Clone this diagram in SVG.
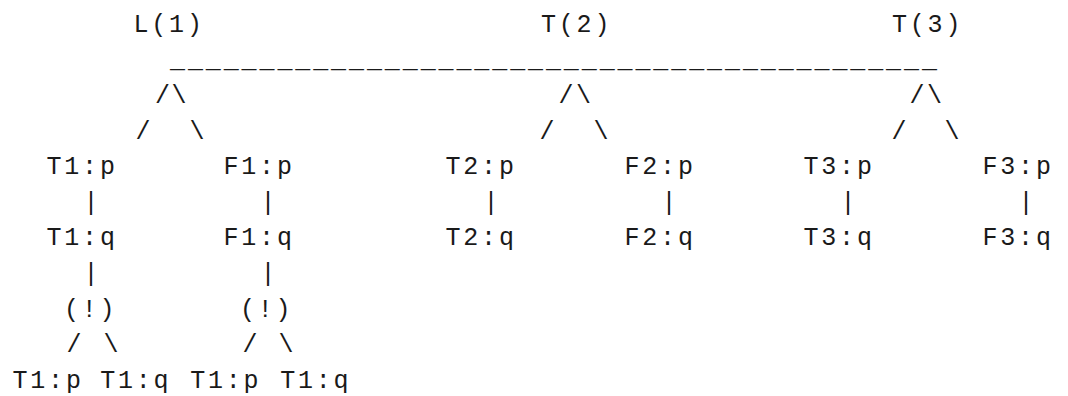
<svg xmlns="http://www.w3.org/2000/svg" width="1068" height="396" viewBox="0 0 1068 396">
  <style>
    text { font-family: "Liberation Mono", "DejaVu Sans Mono", monospace; font-size: 25px; fill: #1a1a1a; }
    .lbl { letter-spacing: 2.8px; white-space: pre; }
    .ch { text-anchor: middle; }
    .bar { letter-spacing: 2.9px; }
  </style>
  <rect width="1068" height="396" fill="#ffffff"/>

  <!-- tree edges, drawn as monospace characters -->
  <g id="connectors">
    <text class="bar lbl" x="170" y="67">___________________________________________</text>
    <!-- L(1) branch -->
    <text class="ch" x="162.5" y="103">/</text>
    <text class="ch" x="179" y="103">\</text>
    <text class="ch" x="143" y="138.5">/</text>
    <text class="ch" x="197" y="138.5">\</text>
    <text class="ch" x="91" y="210">|</text>
    <text class="ch" x="268" y="210">|</text>
    <text class="ch" x="91" y="281">|</text>
    <text class="ch" x="268" y="281">|</text>
    <text class="ch" x="74" y="352">/</text>
    <text class="ch" x="111" y="352">\</text>
    <text class="ch" x="250" y="352">/</text>
    <text class="ch" x="286" y="352">\</text>
    <!-- T(2) branch -->
    <text class="ch" x="566" y="103">/</text>
    <text class="ch" x="583.5" y="103">\</text>
    <text class="ch" x="547" y="138.5">/</text>
    <text class="ch" x="601" y="138.5">\</text>
    <text class="ch" x="491" y="210">|</text>
    <text class="ch" x="669" y="210">|</text>
    <!-- T(3) branch -->
    <text class="ch" x="917" y="103">/</text>
    <text class="ch" x="934.5" y="103">\</text>
    <text class="ch" x="899" y="138.5">/</text>
    <text class="ch" x="952" y="138.5">\</text>
    <text class="ch" x="848" y="210">|</text>
    <text class="ch" x="1026" y="210">|</text>
  </g>

  <!-- root labels -->
  <g id="node-L1"><text class="lbl" x="133.5" y="31.5">L(1)</text></g>
  <g id="node-T2"><text class="lbl" x="541" y="31.5">T(2)</text></g>
  <g id="node-T3"><text class="lbl" x="892" y="31.5">T(3)</text></g>

  <!-- L(1) subtree -->
  <g id="node-T1p"><text class="lbl" x="46.5" y="174">T1:p</text></g>
  <g id="node-F1p"><text class="lbl" x="223.5" y="174">F1:p</text></g>
  <g id="node-T1q"><text class="lbl" x="46.5" y="245">T1:q</text></g>
  <g id="node-F1q"><text class="lbl" x="223.5" y="245">F1:q</text></g>
  <g id="node-bang1"><text class="lbl" x="64" y="316.5">(!)</text></g>
  <g id="node-bang2"><text class="lbl" x="240" y="316.5">(!)</text></g>
  <g id="node-leaf1"><text class="lbl" x="12.5" y="388">T1:p</text></g>
  <g id="node-leaf2"><text class="lbl" x="100.2" y="388">T1:q</text></g>
  <g id="node-leaf3"><text class="lbl" x="190.2" y="388">T1:p</text></g>
  <g id="node-leaf4"><text class="lbl" x="280.2" y="388">T1:q</text></g>

  <!-- T(2) subtree -->
  <g id="node-T2p"><text class="lbl" x="445.5" y="174">T2:p</text></g>
  <g id="node-F2p"><text class="lbl" x="624.5" y="174">F2:p</text></g>
  <g id="node-T2q"><text class="lbl" x="445.5" y="245">T2:q</text></g>
  <g id="node-F2q"><text class="lbl" x="624.5" y="245">F2:q</text></g>

  <!-- T(3) subtree -->
  <g id="node-T3p"><text class="lbl" x="803.5" y="174">T3:p</text></g>
  <g id="node-F3p"><text class="lbl" x="982.5" y="174">F3:p</text></g>
  <g id="node-T3q"><text class="lbl" x="803.5" y="245">T3:q</text></g>
  <g id="node-F3q"><text class="lbl" x="982.5" y="245">F3:q</text></g>
</svg>
